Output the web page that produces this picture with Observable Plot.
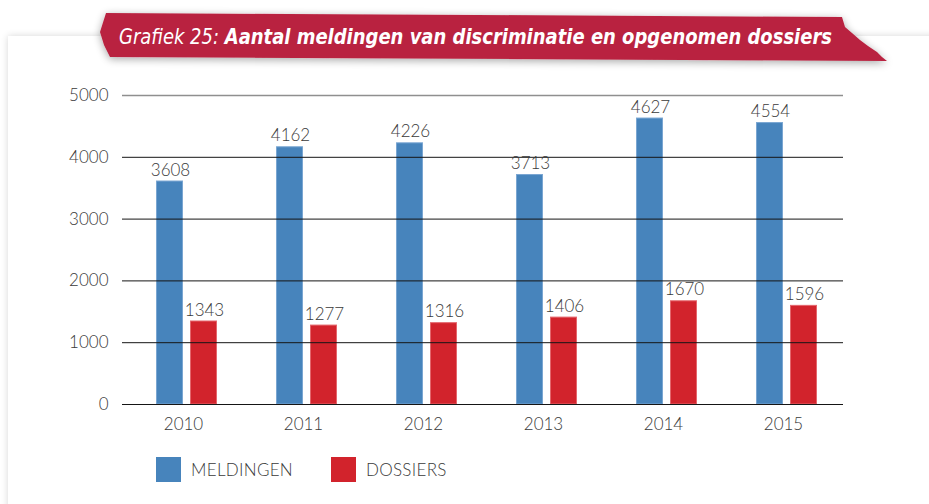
<!DOCTYPE html>
<html>
<head>
<meta charset="utf-8">
<script src="https://cdn.jsdelivr.net/npm/d3@7"></script>
<script src="https://cdn.jsdelivr.net/npm/@observablehq/plot@0.6"></script>
<style>
  html, body { margin: 0; padding: 0; background: #fff; }
  body { width: 929px; height: 504px; position: relative; overflow: hidden; font-family: Lato, "Open Sans", sans-serif; }
  #panel { position: absolute; left: 8px; top: 36px; width: 940px; height: 500px; background: #fff; box-shadow: 0 0 7px rgba(0,0,0,0.16); }
  #chart { position: absolute; left: 0; top: 0; }
  #banner { position: absolute; left: 0; top: 0; }
  #legend { position: absolute; left: 156px; top: 457px; display: flex; align-items: center; font-size: 17px; font-weight: 300; color: #3a3a3a; letter-spacing: 0.3px; }
  .item { display: flex; align-items: center; }
  .sw { width: 25px; height: 25px; margin-right: 10px; }
</style>
</head>
<body>
<div id="panel"></div>
<div id="chart"></div>
<svg id="banner" width="929" height="80">
  <defs>
    <filter id="sh" x="-5%" y="-50%" width="110%" height="200%">
      <feGaussianBlur in="SourceAlpha" stdDeviation="4"/>
      <feOffset dx="0" dy="2" result="b"/>
      <feComponentTransfer><feFuncA type="linear" slope="0.35"/></feComponentTransfer>
      <feMerge><feMergeNode/><feMergeNode in="SourceGraphic"/></feMerge>
    </filter>
  </defs>
  <polygon filter="url(#sh)" fill="#b92341"
    points="106,13 842,17 845,27 852,33 860,40 868,46 877,52 882,57 887,61 110,57 104,45 100,32"/>
  <text id="ttl" x="119" y="44" fill="#fff" font-size="22" font-style="italic"
    font-family="'Liberation Sans Narrow','DejaVu Sans Condensed',sans-serif"
    textLength="713" lengthAdjust="spacingAndGlyphs"><tspan font-weight="300">Grafiek 25: </tspan><tspan font-weight="bold">Aantal meldingen van discriminatie en opgenomen dossiers</tspan></text>
</svg>
<div id="legend"></div>
<script>
const years = ["2010", "2011", "2012", "2013", "2014", "2015"];
const meldingen = [3608, 4162, 4226, 3713, 4627, 4554];
const dossiers = [1343, 1277, 1316, 1406, 1670, 1596];
const seriesNames = ["MELDINGEN", "DOSSIERS"];
const seriesColors = ["#4784bc", "#d2232c"];
const seriesStrokes = ["#7aa6d2", "#e4666c"];
const yTicks = [0, 1000, 2000, 3000, 4000, 5000];

const mData = years.map((y, i) => ({year: y, value: meldingen[i]}));
const dData = years.map((y, i) => ({year: y, value: dossiers[i]}));

const textColor = "#3a3a3a";

const plot = Plot.plot({
  width: 929,
  height: 445,
  marginLeft: 122,
  marginRight: 86,
  marginTop: 95,
  marginBottom: 41,
  style: {fontFamily: "Lato, 'Open Sans', sans-serif", fontSize: "17px", fontWeight: 300, color: textColor, background: "transparent"},
  x: {domain: years, padding: 0, label: null, tickSize: 0, tickPadding: 13},
  y: {domain: [0, 5000], ticks: yTicks, label: null, tickSize: 0, tickPadding: 14, tickFormat: d => String(d)},
  marks: [
    Plot.barY(mData, {x: "year", y: "value", fill: seriesColors[0], stroke: seriesStrokes[0], strokeWidth: 1, insetLeft: 33.5, insetRight: 60.5}),
    Plot.barY(dData, {x: "year", y: "value", fill: seriesColors[1], stroke: seriesStrokes[1], strokeWidth: 1, insetLeft: 67.5, insetRight: 26.5}),
    Plot.ruleY(yTicks.filter(d => d < 5000), {stroke: "#151515", strokeWidth: 1}),
    Plot.ruleY([5000], {stroke: "#8f8f8f", strokeWidth: 1.6}),
    Plot.text(mData, {x: "year", y: "value", text: d => String(d.value), dx: -13, dy: -6, lineAnchor: "bottom", fill: textColor, fontSize: 17, fontWeight: 300}),
    Plot.text(dData, {x: "year", y: "value", text: d => String(d.value), dx: 21, dy: -6, lineAnchor: "bottom", fill: textColor, fontSize: 17, fontWeight: 300})
  ]
});
document.getElementById("chart").appendChild(plot);

const legend = document.getElementById("legend");
seriesNames.forEach((name, i) => {
  const item = document.createElement("div");
  item.className = "item";
  item.style.marginRight = i === 0 ? "38px" : "0";
  const sw = document.createElement("div");
  sw.className = "sw";
  sw.style.background = seriesColors[i];
  const label = document.createElement("span");
  label.textContent = name;
  item.appendChild(sw);
  item.appendChild(label);
  legend.appendChild(item);
});
</script>
</body>
</html>
